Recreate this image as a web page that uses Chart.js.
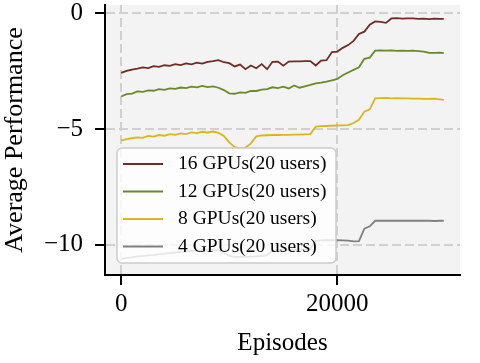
<!DOCTYPE html>
<html>
<head>
<meta charset="utf-8">
<script src="https://cdn.jsdelivr.net/npm/chart.js@4"></script>
<style>
  body { margin: 0; background: #fff; }
</style>
</head>
<body>
<canvas id="myChart" width="480" height="363"></canvas>
<script>
// episode positions of the sampled points
var episodes = [0, 500, 1000, 1500, 2000, 2500, 3000, 3500, 4000, 4500,
    5000, 5500, 6000, 6500, 7000, 7500, 8000, 8500, 9000, 9500,
    10000, 10500, 11000, 11500, 12000, 12500, 13000, 13500, 14000, 14500,
    15000, 15500, 16000, 16500, 17000, 17500, 18000, 18500, 19000, 19500,
    20000, 20500, 21000, 21500, 22000, 22500, 23000, 23500, 24000, 24500,
    25000, 25500, 26000, 26500, 27000, 27500, 28000, 28500, 29000, 29500, 29850];

var seriesNames = ['16 GPUs(20 users)', '12 GPUs(20 users)', '8 GPUs(20 users)', '4 GPUs(20 users)'];

var gpu16 = [-2.58, -2.49, -2.44, -2.40, -2.34, -2.37, -2.29, -2.32, -2.25, -2.28,
    -2.20, -2.24, -2.17, -2.21, -2.14, -2.18, -2.10, -2.07, -2.03, -2.12,
    -2.16, -2.30, -2.22, -2.42, -2.26, -2.38, -2.20, -2.42, -2.10, -2.09,
    -2.27, -2.09, -2.08, -2.08, -2.07, -2.07, -2.26, -2.05, -2.03, -1.68,
    -1.66, -1.50, -1.38, -1.20, -0.90, -0.80, -0.50, -0.36, -0.38, -0.42,
    -0.23, -0.22, -0.24, -0.23, -0.23, -0.25, -0.24, -0.26, -0.24, -0.25, -0.25];

var gpu12 = [-3.60, -3.50, -3.47, -3.38, -3.40, -3.33, -3.35, -3.28, -3.31, -3.25,
    -3.27, -3.21, -3.24, -3.17, -3.20, -3.14, -3.19, -3.16, -3.22, -3.32,
    -3.46, -3.48, -3.42, -3.44, -3.36, -3.36, -3.30, -3.28, -3.20, -3.24,
    -3.17, -3.25, -3.12, -3.22, -3.16, -3.10, -3.03, -3.00, -2.96, -2.90,
    -2.84, -2.68, -2.56, -2.45, -2.34, -1.97, -1.92, -1.62, -1.61, -1.62,
    -1.61, -1.63, -1.62, -1.63, -1.62, -1.64, -1.66, -1.72, -1.72, -1.71, -1.73];

var gpu8 = [-5.50, -5.44, -5.40, -5.36, -5.38, -5.30, -5.33, -5.26, -5.29, -5.22,
    -5.25, -5.19, -5.22, -5.15, -5.18, -5.12, -5.15, -5.11, -5.17, -5.30,
    -5.58, -5.78, -5.84, -5.80, -5.62, -5.32, -5.28, -5.27, -5.26, -5.26,
    -5.25, -5.25, -5.24, -5.24, -5.23, -5.22, -4.90, -4.88, -4.87, -4.86,
    -4.85, -4.84, -4.83, -4.74, -4.60, -4.25, -4.15, -3.68, -3.67, -3.66,
    -3.68, -3.67, -3.68, -3.68, -3.69, -3.69, -3.70, -3.70, -3.69, -3.72, -3.74];

var gpu4 = [-10.60, -10.56, -10.54, -10.50, -10.49, -10.45, -10.44, -10.40, -10.39, -10.35,
    -10.33, -10.30, -10.28, -10.26, -10.25, -10.22, -10.21, -10.20, -10.24, -10.35,
    -10.48, -10.52, -10.52, -10.52, -10.51, -10.50, -10.48, -10.44, -10.25, -10.24,
    -10.23, -10.22, -10.22, -10.21, -10.20, -10.18, -9.82, -9.81, -9.80, -9.80,
    -9.80, -9.81, -9.82, -9.85, -9.84, -9.30, -9.20, -8.96, -8.96, -8.96,
    -8.95, -8.96, -8.96, -8.96, -8.95, -8.96, -8.96, -8.96, -8.97, -8.96, -8.96];

var xTicks = [0, 20000];
var yTicks = [0, -5, -10];

var colors = ['#6e2c24', '#6a8a2a', '#dbb51c', '#808080'];
var allSeries = [gpu16, gpu12, gpu8, gpu4];

var serif = '"Liberation Serif", "Times New Roman", serif';

function toPoints(values) {
    return episodes.map(function (e, i) { return { x: e, y: values[i] }; });
}

var datasets = allSeries.map(function (s, i) {
    return {
        label: seriesNames[i],
        data: toPoints(s),
        borderColor: colors[i],
        borderWidth: 1.8,
        pointRadius: 0,
        tension: 0,
        fill: false
    };
});

// gray plot background
var bgPlugin = {
    id: 'bg',
    beforeDraw: function (chart) {
        var a = chart.chartArea;
        var c = chart.ctx;
        c.save();
        c.fillStyle = '#f3f3f3';
        c.fillRect(a.left, a.top, a.right - a.left, a.bottom - a.top);
        c.restore();
    }
};

// matplotlib-like legend box inside the plot
var legendPlugin = {
    id: 'boxLegend',
    afterDraw: function (chart) {
        var c = chart.ctx;
        var x = 117, y = 148, w = 219, h = 115, r = 5;
        c.save();
        c.beginPath();
        c.roundRect(x, y, w, h, r);
        c.fillStyle = 'rgba(255,255,255,0.8)';
        c.fill();
        c.strokeStyle = '#cccccc';
        c.lineWidth = 1.5;
        c.stroke();
        c.font = '19.5px ' + serif;
        c.textBaseline = 'middle';
        c.fillStyle = '#000';
        chart.data.datasets.forEach(function (ds, i) {
            var ry = 164 + i * 27.5;
            c.beginPath();
            c.moveTo(123, ry);
            c.lineTo(163, ry);
            c.strokeStyle = ds.borderColor;
            c.lineWidth = 1.8;
            c.stroke();
            c.fillText(ds.label, 178, ry);
        });
        c.restore();
    }
};

var ctx = document.getElementById('myChart').getContext('2d');
var myChart = new Chart(ctx, {
    type: 'line',
    data: { datasets: datasets },
    plugins: [bgPlugin, legendPlugin],
    options: {
        responsive: false,
        animation: false,
        layout: { padding: { top: 5, right: 20, left: 0, bottom: 0 } },
        plugins: { legend: { display: false }, tooltip: { enabled: false } },
        scales: {
            x: {
                type: 'linear',
                min: -1500,
                max: 31350,
                afterBuildTicks: function (scale) {
                    scale.ticks = xTicks.map(function (v) { return { value: v }; });
                },
                afterFit: function (scale) {
                    scale.height = 88;
                    scale.paddingLeft = 0;
                    scale.paddingRight = 0;
                },
                grid: {
                    color: '#d0d0d0',
                    lineWidth: 2,
                    tickColor: '#000',
                    tickLength: 10,
                    tickWidth: 2
                },
                border: { color: '#000', width: 2, dash: [9, 4] },
                ticks: {
                    color: '#000',
                    font: { family: serif, size: 25 },
                    padding: 4,
                    maxRotation: 0,
                    callback: function (v) { return String(v); }
                },
                title: {
                    display: true,
                    text: 'Episodes',
                    color: '#000',
                    font: { family: serif, size: 25 },
                    padding: { top: 0, bottom: 5 }
                }
            },
            y: {
                min: -11.3,
                max: 0.35,
                afterBuildTicks: function (scale) {
                    scale.ticks = yTicks.map(function (v) { return { value: v }; });
                },
                afterFit: function (scale) {
                    scale.width = 105;
                    scale.paddingTop = 0;
                    scale.paddingBottom = 0;
                },
                grid: {
                    color: '#d0d0d0',
                    lineWidth: 2,
                    tickColor: '#000',
                    tickLength: 10,
                    tickWidth: 2
                },
                border: { color: '#000', width: 2, dash: [9, 4] },
                ticks: {
                    color: '#000',
                    font: { family: serif, size: 25 },
                    padding: 12,
                    callback: function (v) { return v < 0 ? '\u2212' + Math.abs(v) : String(v); }
                },
                title: {
                    display: true,
                    text: 'Average Performance',
                    color: '#000',
                    font: { family: serif, size: 26 },
                    padding: { top: 0, bottom: 0 }
                }
            }
        }
    }
});
</script>
</body>
</html>
